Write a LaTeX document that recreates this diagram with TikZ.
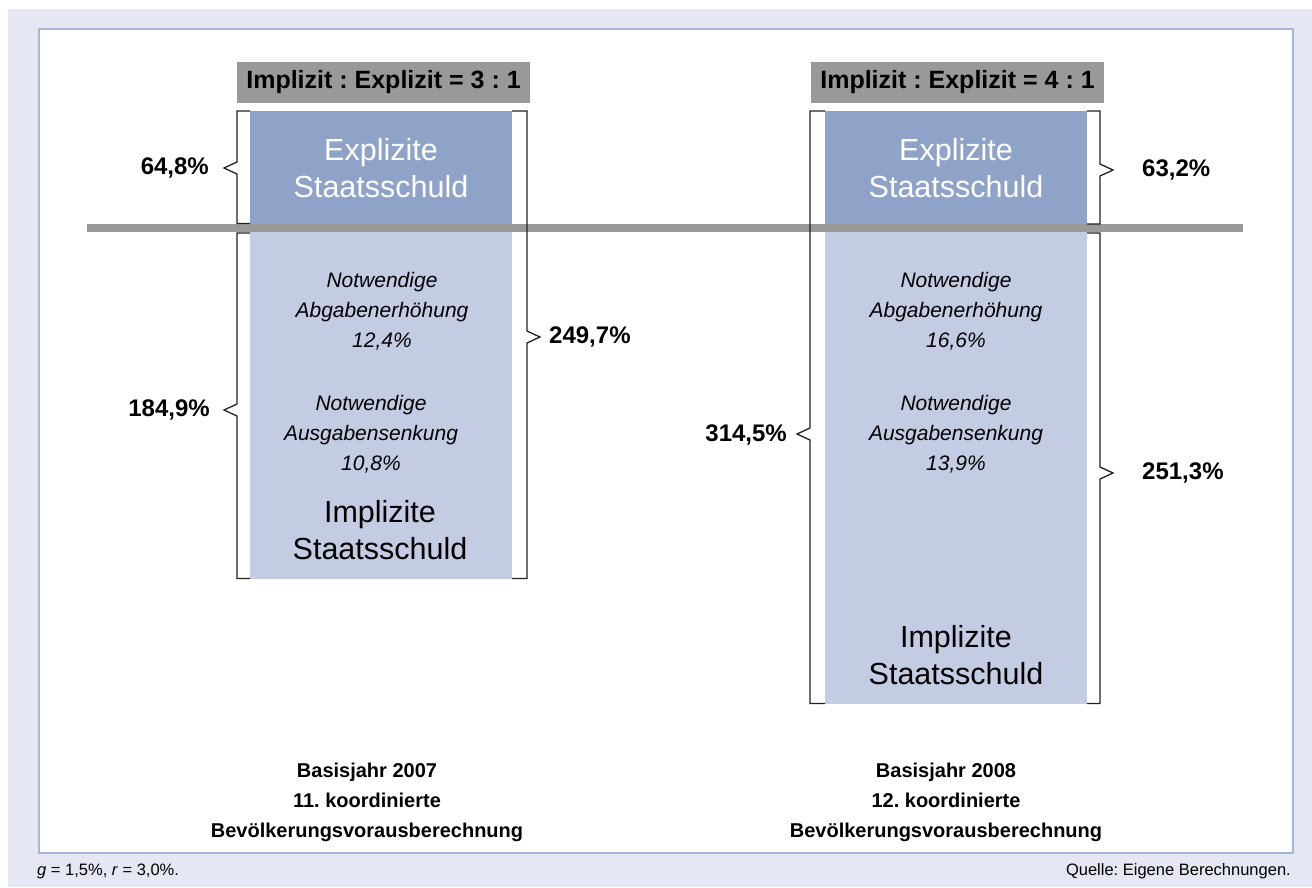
\documentclass[tikz,border=0pt]{standalone}
\usepackage{fontspec}
\setmainfont{Liberation Sans}
\definecolor{bgl}{RGB}{229,232,243}
\definecolor{frm}{RGB}{166,182,219}
\definecolor{expl}{RGB}{143,162,200}
\definecolor{impl}{RGB}{195,204,226}
\definecolor{hdr}{RGB}{153,153,153}
\definecolor{brk}{RGB}{35,35,35}
\frenchspacing
\begin{document}
\begin{tikzpicture}[x=1pt,y=-1pt,
  hdrbox/.style={fill=hdr,inner sep=0pt,minimum width=293pt,minimum height=41pt,font=\bfseries\fontsize{25}{30}\selectfont},
  explbox/.style={fill=expl,inner sep=0pt,minimum width=262pt},
  implbox/.style={fill=impl,inner sep=0pt,minimum width=262pt},
  bigtxt/.style={align=center,font=\fontsize{30.5}{37}\selectfont,inner sep=0pt},
  ittxt/.style={align=center,font=\itshape\fontsize{21}{30}\selectfont,inner sep=0pt},
  pct/.style={font=\bfseries\fontsize{24}{28}\selectfont,inner sep=0pt},
  basetxt/.style={align=center,font=\bfseries\fontsize{20}{30}\selectfont,inner sep=0pt},
  foot/.style={font=\fontsize{16.5}{20}\selectfont,inner sep=0pt},
  brkline/.style={draw=brk,line width=1.3pt,line join=miter}]
\useasboundingbox (0,0) rectangle (1312,887);
\fill[white] (0,0) rectangle (1312,887);
\fill[bgl] (8,9) rectangle (1312,887);
\draw[frm,fill=white,line width=1.5pt] (39,29) rectangle (1293,853);

% headers
\node[hdrbox] (h1) at (383.5,82.5) {Implizit : Explizit = 3 : 1};
\node[hdrbox] (h2) at (957.5,82.5) {Implizit : Explizit = 4 : 1};

% boxes
\node[explbox,minimum height=113pt] (e1) at (381,167.5) {};
\node[explbox,minimum height=113pt] (e2) at (956,167.5) {};
\node[implbox,minimum height=347pt] (i1) at (381,405.5) {};
\node[implbox,minimum height=472pt] (i2) at (956,468) {};

% separator line
\fill[hdr] (87,224) rectangle (1243,232);

% box texts
\node[bigtxt,text=white] (et1) at (381,168) {Explizite\\Staatsschuld};
\node[bigtxt,text=white] (et2) at (956,168) {Explizite\\Staatsschuld};
\node[ittxt] (a1) at (382,311) {Notwendige\\Abgabenerhöhung\\12,4\%};
\node[ittxt] (s1) at (371,434) {Notwendige\\Ausgabensenkung\\10,8\%};
\node[bigtxt] (it1) at (380,530) {Implizite\\Staatsschuld};
\node[ittxt] (a2) at (956,311) {Notwendige\\Abgabenerhöhung\\16,6\%};
\node[ittxt] (s2) at (956,434) {Notwendige\\Ausgabensenkung\\13,9\%};
\node[bigtxt] (it2) at (956,655) {Implizite\\Staatsschuld};

% brackets, left column
\draw[brkline] (250,111) -- (237,111) -- (237,162) -- (224,168) -- (237,174) -- (237,223.5) -- (250,223.5);
\draw[brkline] (250,233) -- (237,233) -- (237,404) -- (224,410) -- (237,416) -- (237,578.5) -- (250,578.5);
\draw[brkline] (512,111) -- (527,111) -- (527,331) -- (540,337) -- (527,343) -- (527,578.5) -- (512,578.5);
% brackets, right column
\draw[brkline] (825,111) -- (810,111) -- (810,428) -- (797,434) -- (810,440) -- (810,703.5) -- (825,703.5);
\draw[brkline] (1087,111) -- (1100,111) -- (1100,164) -- (1113,170) -- (1100,176) -- (1100,224) -- (1087,224);
\draw[brkline] (1087,233) -- (1100,233) -- (1100,467) -- (1113,473) -- (1100,479) -- (1100,703.5) -- (1087,703.5);

% percentages
\node[pct,anchor=east] (p1) at (209,168) {64,8\%};
\node[pct,anchor=east] (p2) at (210,410) {184,9\%};
\node[pct,anchor=west] (p3) at (549,337) {249,7\%};
\node[pct,anchor=east] (p4) at (787,435) {314,5\%};
\node[pct,anchor=west] (p5) at (1142,170) {63,2\%};
\node[pct,anchor=west] (p6) at (1142,473) {251,3\%};

% base year labels
\node[basetxt] (b1) at (367,802) {Basisjahr 2007\\11. koordinierte\\Bevölkerungsvorausberechnung};
\node[basetxt] (b2) at (946,802) {Basisjahr 2008\\12. koordinierte\\Bevölkerungsvorausberechnung};

% footer
\node[foot,anchor=west] (f1) at (37,871) {\textit{g} = 1,5\%, \textit{r} = 3,0\%.};
\node[foot,anchor=east] (f2) at (1291,871) {Quelle: Eigene Berechnungen.};
\end{tikzpicture}
\end{document}
